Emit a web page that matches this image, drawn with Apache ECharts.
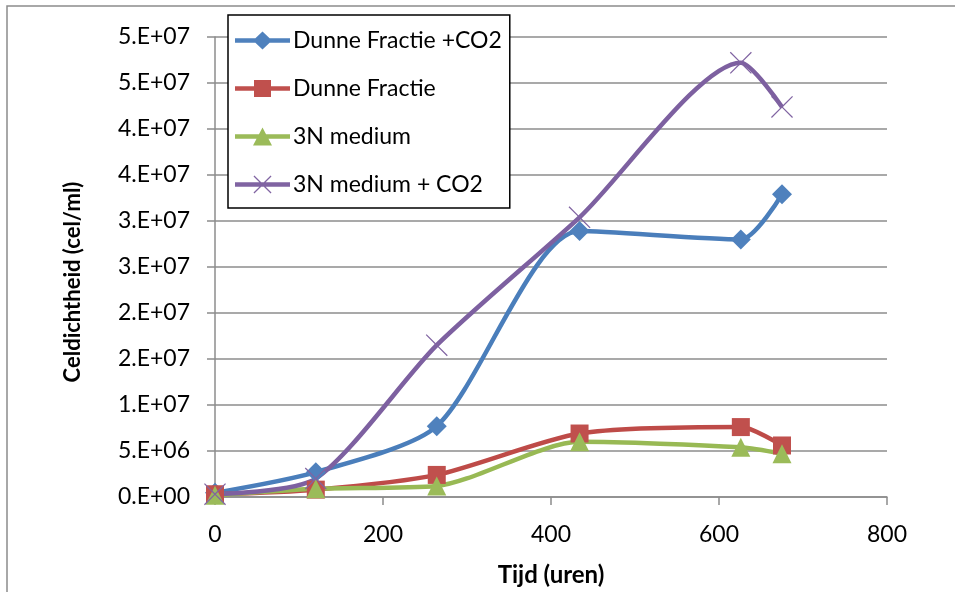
<!DOCTYPE html>
<html>
<head>
<meta charset="utf-8">
<script src="https://cdn.jsdelivr.net/npm/echarts@6/dist/echarts.min.js"></script>
<style>
  html, body { margin: 0; padding: 0; background: #fff; }
  #chart { width: 955px; height: 592px; }
</style>
</head>
<body>
<div id="chart"></div>
<script>
// hours
const hours = [0, 120, 264, 434, 626, 675];

// cell density (cel/ml)
const dunneCO2 = [0.45e6, 2.7e6, 7.7e6, 28.9e6, 28.0e6, 32.9e6];
const dunne = [0.3e6, 0.8e6, 2.4e6, 6.9e6, 7.6e6, 5.6e6];
const medium3N = [0.2e6, 0.9e6, 1.2e6, 6.0e6, 5.4e6, 4.7e6];
const medium3NCO2 = [0.3e6, 2.0e6, 16.5e6, 30.4e6, 47.2e6, 42.4e6];

const seriesNames = ['Dunne Fractie +CO2', 'Dunne Fractie', '3N medium', '3N medium + CO2'];

// Excel-style rounded tick labels
const yTickLabels = ['0.E+00', '5.E+06', '1.E+07', '2.E+07', '2.E+07', '3.E+07',
  '3.E+07', '4.E+07', '4.E+07', '5.E+07', '5.E+07'];

const FONT = 'Lato, "Liberation Sans", sans-serif';
const GRID = '#8c8c8c';
const crossPath = 'path://M0,4L4,0L50,46L96,0L100,4L54,50L100,96L96,100L50,54L4,100L0,96L46,50Z';

// legend icons: thick line + marker, all in a 55x18 box
const legendBar = 'M0,6.75L55,6.75L55,11.25L0,11.25Z';
const legendIcons = [
  'path://' + legendBar + 'M27.5,0L37,9L27.5,18L18,9Z',
  'path://' + legendBar + 'M19,0.5L36,0.5L36,17.5L19,17.5Z',
  'path://' + legendBar + 'M27.5,0L37,18L18,18Z',
  'path://' + legendBar + 'M18.5,0.9L19.4,0L27.5,8.1L35.6,0L36.5,0.9L28.4,9L36.5,17.1L35.6,18L27.5,9.9L19.4,18L18.5,17.1L26.6,9Z'
];

function pairs(ys) {
  return hours.map((h, i) => [h, ys[i]]);
}

function makeSeries(name, ys, lineColor, markColor, symbol, size) {
  return {
    name: name,
    type: 'line',
    smooth: 0.25,
    data: pairs(ys),
    symbol: symbol,
    symbolSize: size,
    lineStyle: { color: lineColor, width: 4.5 },
    itemStyle: { color: markColor },
    z: 3
  };
}

const chart = echarts.init(document.getElementById('chart'));

chart.setOption({
  animation: false,
  backgroundColor: '#fff',
  graphic: [{
    type: 'rect',
    shape: { x: 7, y: 6, width: 1000, height: 700 },
    style: { fill: 'none', stroke: GRID, lineWidth: 1.5 },
    silent: true,
    z: -10
  }, {
    type: 'text',
    x: 73,
    y: 282,
    rotation: Math.PI / 2,
    style: {
      text: 'Celdichtheid (cel/ml)',
      fontFamily: FONT,
      fontSize: 22,
      fontWeight: 'bold',
      fill: '#000',
      align: 'center',
      verticalAlign: 'middle'
    },
    silent: true
  }],
  grid: { left: 215, right: 68, top: 37, bottom: 94 },
  legend: {
    orient: 'vertical',
    left: 228,
    top: 15,
    data: seriesNames.map((n, i) => ({ name: n, icon: legendIcons[i] })),
    backgroundColor: '#fff',
    borderColor: '#000',
    borderWidth: 1.5,
    padding: [14, 8, 12, 7],
    itemGap: 25,
    itemWidth: 55,
    itemHeight: 18,
    textStyle: { fontFamily: FONT, fontSize: 23, color: '#000', padding: [0, 0, 0, -2] },
    z: 10
  },
  xAxis: {
    type: 'value',
    min: 0,
    max: 800,
    interval: 200,
    name: 'Tijd (uren)',
    nameLocation: 'middle',
    nameGap: 66,
    nameTextStyle: { fontFamily: FONT, fontSize: 24, fontWeight: 'bold', color: '#000' },
    axisLine: { show: true, lineStyle: { color: GRID, width: 1.5 } },
    axisTick: { show: true, length: 8, lineStyle: { color: GRID, width: 1.5 } },
    axisLabel: { fontFamily: FONT, fontSize: 23, color: '#000', margin: 26 },
    splitLine: { show: false }
  },
  yAxis: {
    type: 'value',
    min: 0,
    max: 5e7,
    interval: 5e6,
    axisLine: { show: true, lineStyle: { color: GRID, width: 1.5 } },
    axisTick: { show: true, length: 8, lineStyle: { color: GRID, width: 1.5 } },
    axisLabel: {
      fontFamily: FONT,
      fontSize: 23,
      color: '#000',
      margin: 25,
      formatter: function (v) {
        return yTickLabels[Math.round(v / 5e6)];
      }
    },
    splitLine: { show: true, lineStyle: { color: GRID, width: 1.5 } }
  },
  series: [
    makeSeries(seriesNames[0], dunneCO2, '#4A7EBB', '#4F81BD', 'diamond', 20),
    makeSeries(seriesNames[1], dunne, '#BE4B48', '#C0504D', 'rect', 18),
    makeSeries(seriesNames[2], medium3N, '#98B954', '#9BBB59', 'triangle', 19),
    makeSeries(seriesNames[3], medium3NCO2, '#7D60A0', '#8064A2', crossPath, 22)
  ]
});
</script>
</body>
</html>
